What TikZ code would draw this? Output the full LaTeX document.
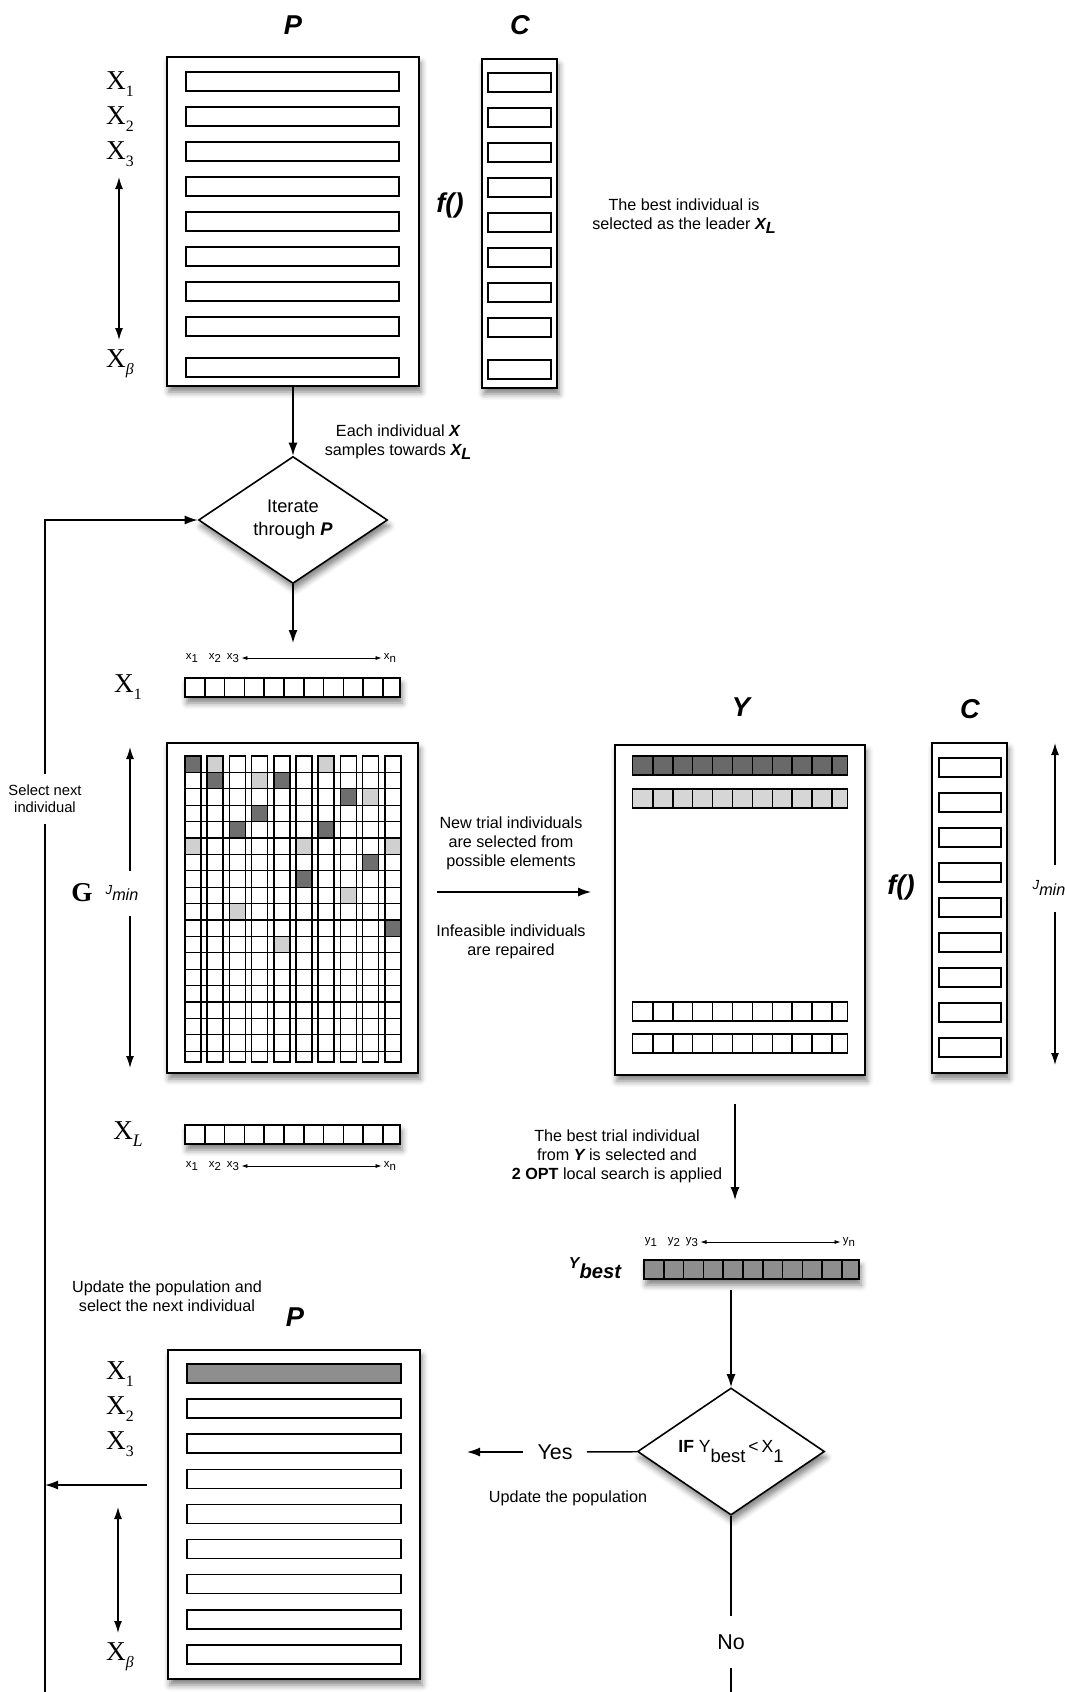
\documentclass[tikz,border=0pt]{standalone}
\usepackage{fontspec}
\setmainfont{Liberation Sans}
\newfontfamily\xserif{Liberation Serif}
\usetikzlibrary{arrows.meta,positioning,shapes.geometric,shadows.blur}
\definecolor{celldark}{HTML}{6E6E6E}
\definecolor{celllight}{HTML}{D0D0D0}
\definecolor{rowdark}{HTML}{696969}
\definecolor{rowlight}{HTML}{D6D6D6}
\definecolor{bestgray}{HTML}{8E8E8E}
\newcommand{\xind}[1]{X\raisebox{-4pt}{\fontsize{9}{9}\selectfont #1}}

\begin{document}
\begin{tikzpicture}[x=0.2mm,y=-0.2mm,line width=0.8pt,>={Latex[length=2.6mm,width=1.8mm]},
 every node/.style={font=\fontsize{9.2}{10.8}\selectfont,align=center},
 softshadow/.style={blur shadow={shadow xshift=0.4mm,shadow yshift=-1.2mm,shadow blur radius=1.2mm,shadow opacity=50}},
 panel/.style={draw,line width=1pt,fill=white,inner sep=0pt,softshadow},
 slot/.style={draw,line width=0.9pt,fill=white,inner sep=0pt,minimum height=3.8mm},
 cellrow/.style={draw,line width=0.9pt,inner sep=0pt,minimum width=43mm,minimum height=3.8mm},
 decision/.style={diamond,draw,line width=0.9pt,fill=white,inner sep=0pt,minimum width=37.8mm,minimum height=25.4mm,softshadow,font=\fontsize{10.4}{13}\selectfont},
 heading/.style={font=\fontsize{15.5}{16}\selectfont\bfseries\itshape},
 idx/.style={font=\fontsize{15.5}{16}\selectfont\xserif},
 idxnote/.style={font=\fontsize{6.5}{7}\selectfont,inner sep=1pt},
 spanarrow/.style={>={Latex[length=1.2mm,width=0.8mm]},<->,line width=0.4pt},
 rangearrow/.style={>={Latex[length=2.4mm,width=1.6mm]},<->}]
\useasboundingbox (0,0) rectangle (1065,1692);
% population P and its costs C
\node[heading] (ptitle) at (293,25) {P};
\node[heading] (ctitle) at (520,25) {C};
\node[panel,minimum width=50.4mm,minimum height=65.8mm] (ptop) at (293,221.5) {};
\node[panel,minimum width=15mm,minimum height=65.8mm] (ctop) at (519.5,223.5) {};
\foreach \y [count=\i] in {81.5,116.5,151.5,186.5,221.5,256.5,291.5,326.5,367.5} \node[slot,minimum width=42.6mm] (pbar\i) at (292.5,\y) {};
\foreach \y [count=\i] in {82.5,117.5,152.5,187.5,222.5,257.5,292.5,327.5,369.5} \node[slot,minimum width=12.6mm] (cbar\i) at (519.5,\y) {};
\node[idx] (px1) at (120,84) {\xind{1}}; \node[idx] (px2) at (120,119) {\xind{2}}; \node[idx] (px3) at (120,154) {\xind{3}}; \node[idx] (pxb) at (120,364) {\xind{\itshape β}};
\coordinate (pr1) at (119,177); \coordinate (pr2) at (119,340); \draw[rangearrow] (pr1) -- (pr2);
\node[heading] (ftop) at (450,205) {f()};
\node (leader) at (684,216) {The best individual is\\selected as the leader {\bfseries\itshape X\raisebox{-2.5pt}{L}}};
% iterate through P
\node[decision] (iter) at (293,520) {Iterate\\through {\bfseries\itshape P}};
\draw[->] (ptop) -- (iter);
\node (sample) at (398,442) {Each individual {\bfseries\itshape X}\\samples towards {\bfseries\itshape X\raisebox{-2.5pt}{L}}};
\coordinate (iterend) at (293,643); \draw[->] (iter) -- (iterend);
% single individuals
\foreach \nm/\xa/\ya/\cl in {xone/185/678/white,xlead/185/1125/white,ybest/644/1260/bestgray}{\node[cellrow,fill=\cl,softshadow] (\nm) at (\xa+107.5,\ya+9.5) {}; \foreach \k in {1,...,10} \draw[line width=0.9pt] (\xa+19.8*\k,\ya) -- ++(0,19);}
\foreach \nm/\letter/\ya/\xa in {top/x/658/0,lead/x/1166/0,best/y/1242/459}{\node[idxnote] (\nm-1) at (192+\xa,\ya) {\letter\raisebox{-1.5pt}{1}}; \node[idxnote] (\nm-2) at (215+\xa,\ya) {\letter\raisebox{-1.5pt}{2}}; \node[idxnote] (\nm-3) at (233+\xa,\ya) {\letter\raisebox{-1.5pt}{3}}; \node[idxnote] (\nm-n) at (390+\xa,\ya) {\letter\raisebox{-1.5pt}{n}}; \draw[spanarrow] (\nm-3) -- (\nm-n);}
\node[idx] (gx1) at (128,687) {\xind{1}};
\node[idx] (gxl) at (128,1134) {X\raisebox{-4pt}{\fontsize{10}{10}\selectfont\itshape L}};
% matrix G
\node[panel,minimum width=50.2mm,minimum height=66mm] (gbox) at (292.5,908) {};
\foreach \r/\c in {0/0,1/1,1/4,2/7,3/3,4/2,4/6,6/8,7/5,10/9} \fill[celldark] (185+22.2*\c,756+16.4*\r) rectangle ++(16,16.4);
\foreach \r/\c in {0/1,0/6,1/3,2/8,5/0,5/5,5/9,8/7,9/2,11/4} \fill[celllight] (185+22.2*\c,756+16.4*\r) rectangle ++(16,16.4);
\foreach \r in {1,...,18} \draw[line width=0.6pt] (185,756+16.4*\r) -- (401,756+16.4*\r);
\foreach \c in {0,...,9} \draw[line width=0.9pt] (185+22.2*\c,756) rectangle ++(16,306);
\node[font=\fontsize{15.5}{16}\selectfont\xserif\bfseries] (glbl) at (82,893) {G};
\coordinate (gr1) at (130,747); \coordinate (gr2) at (130,1068); \draw[rangearrow] (gr1) -- (gr2);
\node[fill=white,inner xsep=1pt,minimum height=9mm] (gjmin) at (122,893) {\itshape\raisebox{3pt}{\fontsize{7.5}{8}\selectfont J}min};
% trial population Y and its costs
\node[heading] (ytitle) at (741,707) {Y};
\node[heading] (c2title) at (970,709) {C};
\node[panel,minimum width=50mm,minimum height=66mm] (ybox) at (740,910) {};
\foreach \nm/\ya/\cl in {ytop/756/rowdark,ysecond/789/rowlight,ythird/1002/white,ylast/1034/white}{\node[cellrow,fill=\cl] (\nm) at (740,\ya+9.5) {}; \foreach \k in {1,...,10} \draw[line width=0.9pt] (633+19.9*\k,\ya) -- ++(0,19);}
\node[panel,minimum width=15mm,minimum height=66mm] (cbox2) at (969.5,908) {};
\foreach \y [count=\i] in {767.5,802.5,837.5,872.5,907.5,942.5,977.5,1012.5,1047.5} \node[slot,minimum width=12.4mm] (c2bar\i) at (970,\y) {};
\node[heading] (fmid) at (901,887) {f()};
\coordinate (cr1) at (1055,743); \coordinate (cr2) at (1055,1065); \draw[rangearrow] (cr1) -- (cr2);
\node[fill=white,inner xsep=1pt,minimum height=9.4mm] (cjmin) at (1049,888) {\itshape\raisebox{3pt}{\fontsize{7.5}{8}\selectfont J}min};
% G to Y
\draw[->,shorten <=3.6mm,shorten >=4.6mm] ([yshift=3.2mm]gbox.east) -- ([yshift=3.2mm]gbox.east -| ybox.west);
\node (newtrial) at (511,843) {New trial individuals\\are selected from\\possible elements};
\node (repair) at (511,942) {Infeasible individuals\\are repaired};
% best trial individual
\coordinate (ybend) at (735,1200); \draw[->,shorten <=5.6mm] (ybox.south -| ybend) -- (ybend);
\node (besttrial) at (617,1156) {The best trial individual\\from {\bfseries\itshape Y} is selected and\\{\bfseries 2 OPT} local search is applied};
\node (ybestlbl) at (595,1268) {\fontsize{11.5}{12}\selectfont\bfseries\itshape\raisebox{6pt}{\fontsize{9}{9}\selectfont Y}best};
% comparison with X1
\node[decision,minimum width=37.4mm,font=\fontsize{10}{11}\selectfont] (cond) at (731,1451.5) {\textbf{IF} Y\raisebox{-5.5pt}{\fontsize{10.5}{11}\selectfont best}\,<\,X\raisebox{-5.5pt}{\fontsize{10.5}{11}\selectfont 1}};
\draw[->,shorten <=2mm] (ybest.south -| cond.north) -- (cond.north);
\node[font=\fontsize{12.2}{14}\selectfont,inner xsep=2.8mm] (yes) at (555,1452) {Yes};
\coordinate (yesend) at (467,1452);
\draw (cond) -- (yes); \draw[->] (yes) -- (yesend);
\node (updpop) at (568,1498) {Update the population};
\node[font=\fontsize{12.2}{14}\selectfont,inner ysep=3.6mm] (no) at (731,1642) {No};
\coordinate (noend) at (731,1692);
\draw (cond) -- (no); \draw (no) -- (noend);
% updated population
\node (updnext) at (167,1296) {Update the population and\\select the next individual};
\node[heading] (pbtitle) at (295,1317) {P};
\node[panel,minimum width=50.4mm,minimum height=65.8mm] (pbot) at (294,1514.5) {};
\node[slot,minimum width=42.8mm,fill=bestgray] (qbar1) at (294,1373.5) {};
\foreach \y [count=\i from 2] in {1408.6,1443.7,1478.8,1513.9,1549,1584.1,1619.2,1654.3} \node[slot,minimum width=42.8mm] (qbar\i) at (294,\y) {};
\node[idx] (qx1) at (120,1374) {\xind{1}}; \node[idx] (qx2) at (120,1409) {\xind{2}}; \node[idx] (qx3) at (120,1444) {\xind{3}}; \node[idx] (qxb) at (120,1657) {\xind{\itshape β}};
\coordinate (qr1) at (118,1507); \coordinate (qr2) at (118,1633); \draw[rangearrow] (qr1) -- (qr2);
% feedback loop
\node[font=\fontsize{8.4}{9.5}\selectfont,inner ysep=2.2mm] (selnext) at (45,799) {Select next\\individual};
\coordinate (loopend) at (45,1692);
\draw[->] (selnext) |- (iter);
\draw (loopend) -- (selnext);
\coordinate (updfrom) at (147,1485); \draw[->] (updfrom) -- (updfrom -| loopend);
\end{tikzpicture}
\end{document}
